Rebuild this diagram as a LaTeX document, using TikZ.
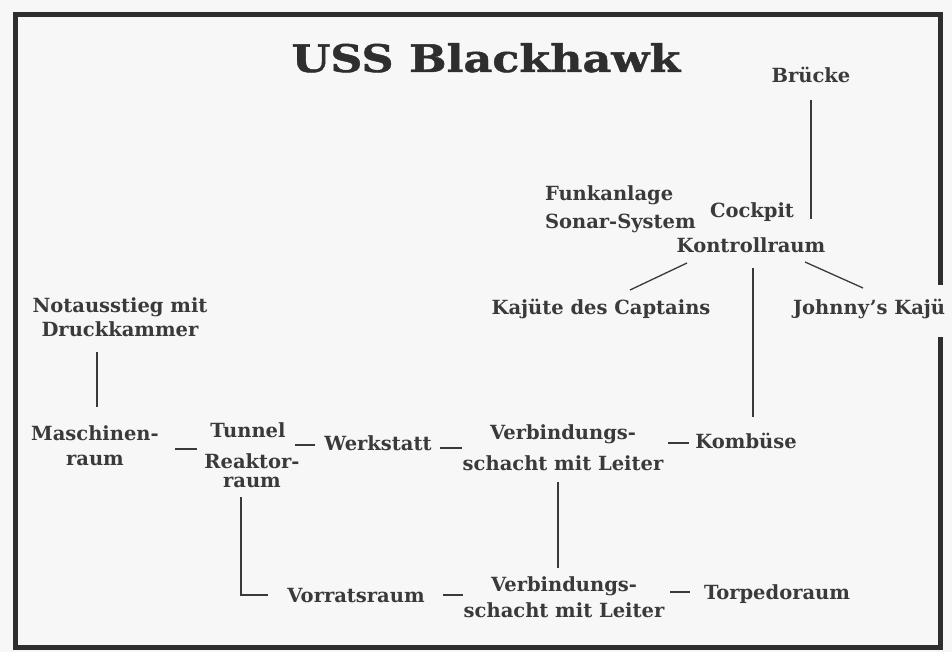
\documentclass[tikz,border=0pt]{standalone}
\usepackage{fontspec}
\setmainfont{DejaVu Serif}
\newfontfamily\titlefont[FakeStretch=1.17,FakeBold=1.2]{DejaVu Serif Bold}
\usetikzlibrary{calc}
\definecolor{ink}{HTML}{3A3A3A}
\definecolor{framec}{HTML}{2E2E2E}
\definecolor{bgc}{HTML}{F7F7F7}
\tikzset{
  lbl/.style={anchor=base, inner sep=0pt, outer sep=0pt, text=ink, align=center,
    font=\fontsize{19.5}{24}\selectfont\bfseries},
  conn/.style={draw=ink, line width=1.3pt},
  dashc/.style={draw=ink, line width=2.2pt},
  framel/.style={draw=framec, line width=5pt}
}
\begin{document}
\begin{tikzpicture}[x=1pt,y=-1pt]
\useasboundingbox (0,0) rectangle (952,652);
\fill[bgc] (0,0) rectangle (952,652);
% frame
\draw[framel] (15,13) -- (15,649);
\draw[framel] (13,15) -- (943,15);
\draw[framel] (940,13) -- (940,285);
\draw[framel] (940,337) -- (940,649);
\draw[framel] (13,647) -- (943,647);
% title
\node[lbl, font=\fontsize{38}{44}\selectfont\titlefont, text=framec] (title) at (486,72) {USS Blackhawk};
% nodes (base = baseline of the last line)
\node[lbl] (brucke) at (811,83) {Brücke};
\node[lbl, anchor=base west, align=left, font=\fontsize{19.5}{28}\selectfont\bfseries] (funk) at (545,229) {Funkanlage\\Sonar-System};
\node[lbl] (cockpit) at (752,218) {Cockpit};
\node[lbl] (kontroll) at (751,252) {Kontrollraum};
\node[lbl] (kajcap) at (601,314) {Kajüte des Captains};
\node[lbl, anchor=base west] (johnny) at (793,314) {Johnny's Kajü};
\node[lbl, font=\fontsize{19.5}{24}\selectfont\bfseries] (notaus) at (120,336) {Notausstieg mit\\Druckkammer};
\node[lbl, font=\fontsize{19.5}{25}\selectfont\bfseries] (masch) at (95,465) {Maschinen-\\raum};
\node[lbl] (tunnel) at (248,437) {Tunnel};
\node[lbl, font=\fontsize{19.5}{19}\selectfont\bfseries] (reaktor) at (252,487) {Reaktor-\\raum};
\node[lbl] (werk) at (378,450) {Werkstatt};
\node[lbl, font=\fontsize{19.5}{31}\selectfont\bfseries] (verb1) at (563,470) {Verbindungs-\\schacht mit Leiter};
\node[lbl] (kombuse) at (746,448) {Kombüse};
\node[lbl, font=\fontsize{19.5}{26}\selectfont\bfseries] (verb2) at (564,617) {Verbindungs-\\schacht mit Leiter};
\node[lbl] (torpedo) at (777,599) {Torpedoraum};
\node[lbl] (vorrat) at (356,602) {Vorratsraum};
% connectors
\draw[conn] ($(brucke.base)+(0,17)$) -- ($(kontroll.base)+(60,-33)$);
\draw[conn] ($(kontroll.base)+(-64,11)$) -- ($(kajcap.base)+(29,-24)$);
\draw[conn] ($(kontroll.base)+(54,10)$) -- ($(johnny.base west)+(70,-26)$);
\draw[conn] ($(kontroll.base)+(2,16)$) -- ($(kombuse.base)+(7,-31)$);
\draw[conn] ($(notaus.base)+(-23,16)$) -- ($(masch.base)+(2,-58)$);
\draw[dashc] ($(masch.base)+(80,-16)$) -- ($(tunnel.base)+(-51,12)$);
\draw[dashc] ($(tunnel.base)+(47,8)$) -- ($(werk.base)+(-63,-5)$);
\draw[dashc] ($(werk.base)+(62,-2)$) -- ($(verb1.base)+(-101,-22)$);
\draw[dashc] ($(verb1.base)+(105,-27)$) -- ($(kombuse.base)+(-57,-5)$);
\draw[conn] ($(verb1.base)+(-5,12)$) -- ($(verb2.base)+(-6,-49)$);
\draw[conn] ($(reaktor.base)+(-11,10)$) |- ($(vorrat.base)+(-88,-7)$);
\draw[dashc] ($(vorrat.base)+(87,-7)$) -- ($(verb2.base)+(-101,-22)$);
\draw[dashc] ($(verb2.base)+(106,-25)$) -- ($(torpedo.base)+(-87,-7)$);
\end{tikzpicture}
\end{document}
